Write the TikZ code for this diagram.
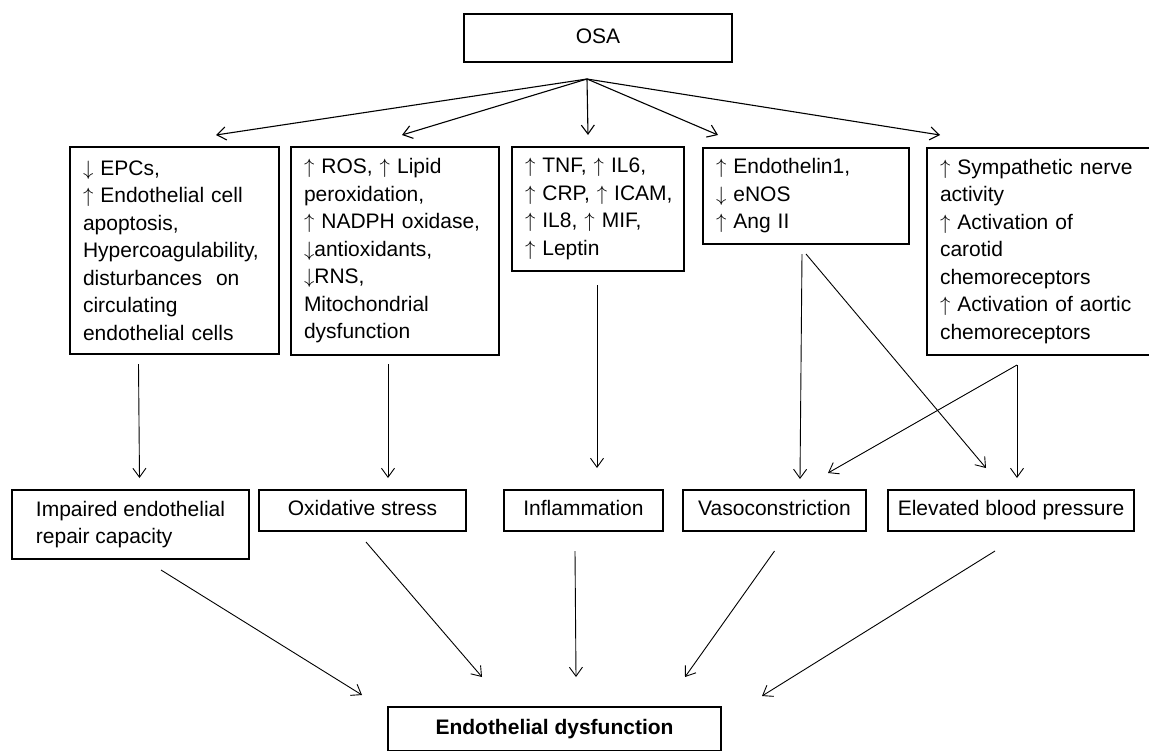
\documentclass[tikz,border=0pt]{standalone}
\usepackage{fontspec}
\setmainfont{Liberation Sans}
\usetikzlibrary{arrows.meta,shadows}

\newcommand{\upar}{$\uparrow$}
\newcommand{\dnar}{$\downarrow$}

\tikzset{
    cause/.style = {draw, line width = 2pt, fill = white, anchor = north west,
        align = left, inner xsep = 13pt, inner ysep = 0pt,
        font = \fontsize{21pt}{27.5pt}\selectfont,
        drop shadow = {shadow xshift = 1pt, shadow yshift = -1pt, opacity = 1, fill = black}},
    effect/.style = {cause, align = center, inner xsep = 8pt},
    oneline/.style = {effect, text height = 15pt, text depth = 4.5pt},
    link/.style = {-{Straight Barb[length = 9pt, width = 13pt]}, line width = 0.9pt}
}

\begin{document}
\begin{tikzpicture}[x = 1pt, y = -1pt]
    \useasboundingbox (0, 0) rectangle (1149, 750);

    % source
    \node [oneline, minimum width = 268pt, minimum height = 48pt] (osa) at (463, 13) {OSA};

    % mechanisms
    \node [cause, text width = 183pt, minimum height = 207pt] (epc) at (69, 146)
        {\dnar{} EPCs,\\\upar{} Endothelial cell\\apoptosis,\\Hypercoagulability,\\disturbances~~on\\circulating\\endothelial cells};
    \node [cause, text width = 182pt, minimum height = 208pt] (ros) at (290, 146)
        {\upar{} ROS, \upar{} Lipid\\peroxidation,\\\upar{}~NADPH~oxidase,\\\dnar{}antioxidants,\\\dnar{}RNS,\\Mitochondrial\\dysfunction};
    \node [cause, text width = 146pt, minimum height = 124pt] (cyto) at (511, 146)
        {\upar{}~TNF,~\upar{}~IL6,\\\upar{}~CRP,~\upar{}~ICAM,\\\upar{}~IL8,~\upar{}~MIF,\\\upar{}~Leptin};
    \node [cause, text width = 180pt, minimum height = 96pt] (endo) at (702, 147)
        {\upar{} Endothelin1,\\\dnar{} eNOS\\\upar{} Ang II};
    \node [cause, text width = 200pt, minimum height = 207pt] (symp) at (926, 147)
        {\upar{} Sympathetic nerve\\activity\\\upar{} Activation of\\carotid\\chemoreceptors\\\upar{}~Activation~of~aortic\\chemoreceptors};

    % consequences
    \node [effect, align = left, minimum width = 237pt, minimum height = 69pt] (repair) at (11, 489)
        {Impaired endothelial\\repair capacity};
    \node [oneline, minimum width = 207pt, minimum height = 41pt] (oxi) at (258, 489) {Oxidative stress};
    \node [oneline, minimum width = 159pt, minimum height = 41pt] (infl) at (503, 489) {Inflammation};
    \node [oneline, minimum width = 183pt, minimum height = 41pt] (vaso) at (682, 489) {Vasoconstriction};
    \node [oneline, minimum width = 246pt, minimum height = 41pt] (bp) at (887, 489) {Elevated blood pressure};

    % outcome
    \node [oneline, font = \fontsize{21pt}{27.5pt}\selectfont\bfseries,
        minimum width = 333pt, minimum height = 44pt] (ed) at (387, 706) {Endothelial dysfunction};

    % OSA fan
    \coordinate (fork) at ([xshift = -11pt, yshift = -16pt]osa.south);
    \draw [link, line width = 1.1pt] (fork) -- ([xshift = 41.5pt, yshift = 11pt]epc.north);
    \draw [link, line width = 1.1pt] (fork) -- ([xshift = 7pt, yshift = 11pt]ros.north);
    \draw [link, line width = 1.1pt] (fork) -- ([xshift = -10pt, yshift = 11pt]cyto.north);
    \draw [link, line width = 1.1pt] (fork) -- ([xshift = 16pt, yshift = 12pt]endo.north west);
    \draw [link, line width = 1.1pt] (fork) -- ([xshift = 14pt, yshift = 12pt]symp.north west);

    % mechanisms to consequences
    \draw [link] ([xshift = -36pt, yshift = -9pt]epc.south) -- ([xshift = 9pt, yshift = 11pt]repair.north);
    \draw [link] ([xshift = -7pt, yshift = -8pt]ros.south) -- ([xshift = 25.5pt, yshift = 11pt]oxi.north);
    \draw [link] ([xshift = -1pt, yshift = -13pt]cyto.south) -- ([xshift = 13.5pt, yshift = 21pt]infl.north);
    \draw [link] ([xshift = -4pt, yshift = -9pt]endo.south) -- ([xshift = 25.5pt, yshift = 10pt]vaso.north);
    \draw [link] ([yshift = -9pt]endo.south) -- ([xshift = -25pt, yshift = 21pt]bp.north);
    \draw [link] ([xshift = -23pt, yshift = -9pt]symp.south) -- ([xshift = 53.5pt, yshift = 16pt]vaso.north);
    \draw [link] ([xshift = -23pt, yshift = -9pt]symp.south) -- ([xshift = 6pt, yshift = 11pt]bp.north);

    % consequences to outcome
    \draw [link] ([xshift = 30.5pt, yshift = -10pt]repair.south) -- ([xshift = -192.5pt, yshift = 11pt]ed.north);
    \draw [link] ([xshift = 3.5pt, yshift = -10pt]oxi.south) -- ([xshift = -72.5pt, yshift = 29pt]ed.north);
    \draw [link] ([xshift = -8.5pt, yshift = -19pt]infl.south) -- ([xshift = 21.5pt, yshift = 29pt]ed.north);
    \draw [link] ([yshift = -19pt]vaso.south) -- ([xshift = 130.5pt, yshift = 29pt]ed.north);
    \draw [link] ([xshift = -16pt, yshift = -19pt]bp.south) -- ([xshift = 207.5pt, yshift = 10pt]ed.north);
\end{tikzpicture}
\end{document}
